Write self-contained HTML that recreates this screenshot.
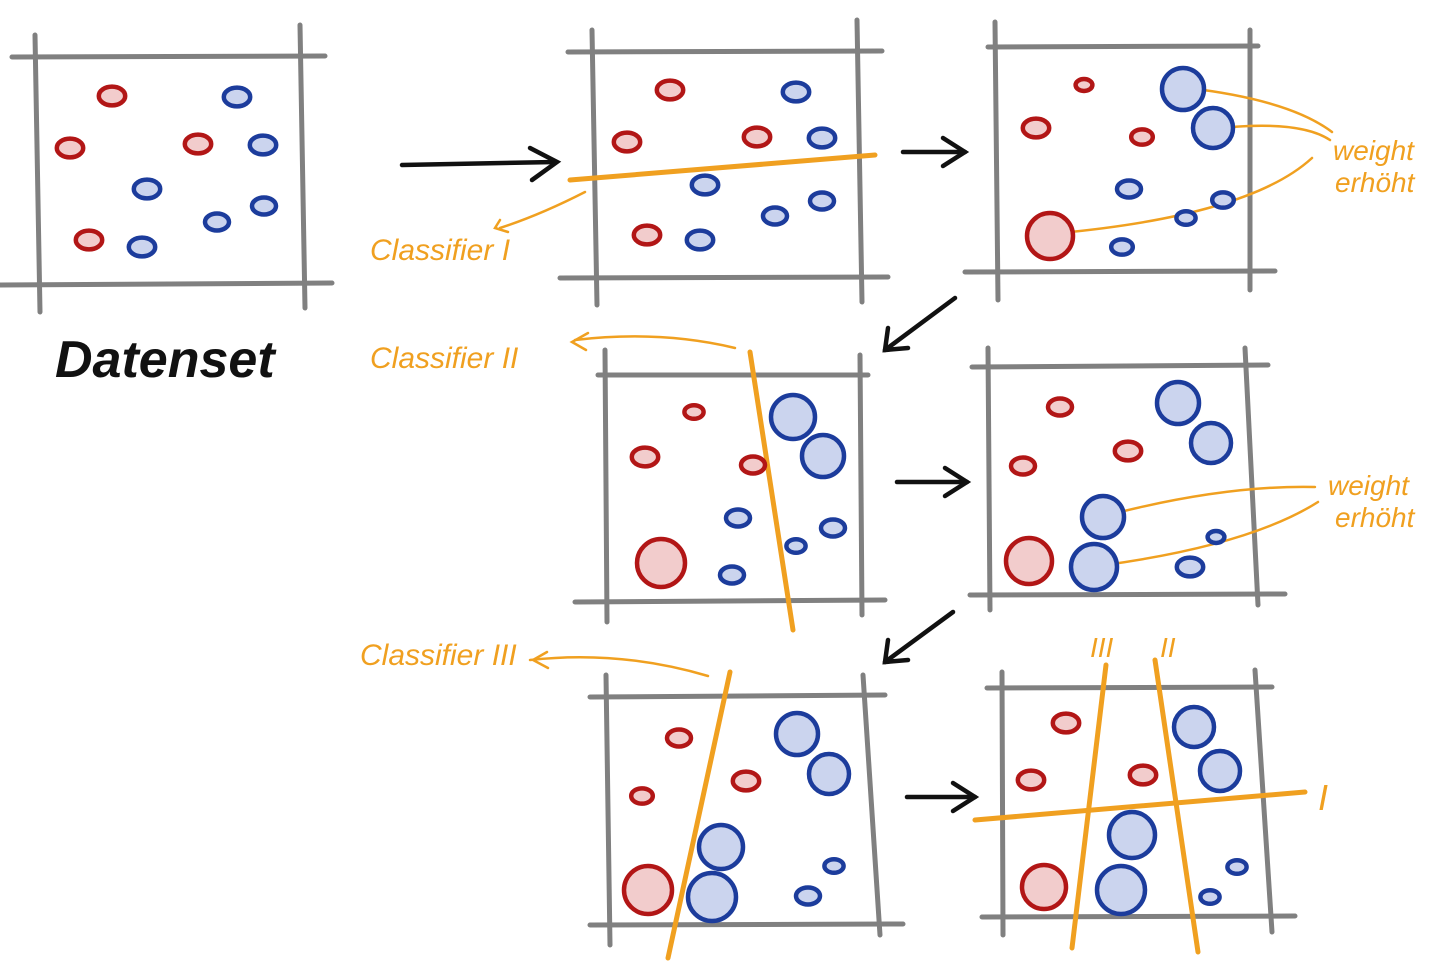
<!DOCTYPE html>
<html><head><meta charset="utf-8"><style>
html,body{margin:0;padding:0;background:#fff;width:1455px;height:968px;overflow:hidden}
svg text{font-family:"Liberation Sans",sans-serif}
</style></head><body>
<svg id="s" width="1455" height="968">
<g id="frames" stroke="#6a6a6a" stroke-width="5" stroke-linecap="round" opacity="0.85"></g>
<g id="orange" stroke="#f0a020" stroke-width="5" stroke-linecap="round" fill="none"></g>
<g id="pts"></g>
<g id="arrows" stroke="#111" stroke-width="4.5" stroke-linecap="round" fill="none"></g>
<g fill="#f0a020" font-size="30" font-style="italic">
<text x="55" y="377" fill="#111" font-size="52" font-style="italic" font-weight="bold">Datenset</text>
<text x="370" y="260">Classifier I</text>
<text x="370" y="368">Classifier II</text>
<text x="360" y="665">Classifier III</text>
<text x="1333" y="160" font-size="28">weight</text>
<text x="1335" y="192" font-size="28">erhöht</text>
<text x="1328" y="495" font-size="28">weight</text>
<text x="1335" y="527" font-size="28">erhöht</text>
<text x="1090" y="657" font-size="28">III</text>
<text x="1160" y="657" font-size="28">II</text>
<text x="1318" y="810" font-size="36">I</text>
</g>
</svg>
<script>
const NS="http://www.w3.org/2000/svg";
function mk(p,t,a){const e=document.createElementNS(NS,t);for(const k in a)e.setAttribute(k,a[k]);p.appendChild(e);return e;}
const frameSegs=[
[12,57,325,56],[0,285,332,283],[35,35,40,312],[300,25,305,308],
[568,52,882,51],[560,278,888,277],[592,30,597,305],[857,20,862,302],
[988,47,1258,46],[965,272,1275,271],[995,22,998,300],[1250,30,1250,290],
[598,375,868,375],[575,602,885,600],[605,350,607,622],[860,355,862,615],
[972,367,1268,365],[970,595,1285,594],[988,348,990,610],[1245,348,1258,605],
[590,697,885,695],[590,925,903,924],[606,675,610,945],[863,675,880,935],
[987,688,1272,687],[982,917,1295,916],[1002,672,1003,935],[1255,670,1272,932]];
const fr=document.getElementById('frames');
for(const s of frameSegs){const l=mk(fr,'line',{x1:s[0],y1:s[1],x2:s[2],y2:s[3]});

}
const orangePaths=[
"M570,180 L875,155","M585,192 Q540,215 500,228","M500,220 L495,228 L508,232",
"M750,352 L793,630","M735,348 Q660,330 575,340","M588,333 L572,342 L586,350",
"M730,672 L668,958","M708,676 Q620,650 530,660","M547,652 L533,660 L548,668",
"M975,820 L1305,792","M1106,665 L1072,948","M1155,660 L1198,952",
"M1188,88 Q1290,100 1332,132","M1220,128 Q1300,120 1330,140","M1060,233 Q1250,215 1312,158",
"M1120,512 Q1230,485 1315,487","M1105,565 Q1250,545 1318,502"];
const og=document.getElementById('orange');
for(const d of orangePaths){const p=mk(og,'path',{d:d,'stroke-width':d.indexOf('Q')>0||d.split('L').length>2?2.5:5});

}
const ptX=[112,237,70,198,263,147,217,264,89,142, 670,796,627,757,822,705,775,822,647,700,
1084,1183,1036,1142,1213,1129,1186,1223,1050,1122, 694,793,645,753,823,738,796,833,661,732,
1060,1178,1023,1128,1211,1103,1216,1190,1029,1094, 679,797,642,746,829,721,808,834,648,712,
1066,1194,1031,1143,1220,1132,1210,1237,1044,1121];
const ptY=[96,97,148,144,145,189,222,206,240,247, 90,92,142,137,138,185,216,201,235,240,
85,89,128,137,128,189,218,200,236,247, 412,417,457,465,456,518,546,528,563,575,
407,403,466,451,443,517,537,567,561,567, 738,734,796,781,774,847,896,866,890,897,
723,727,780,775,771,835,897,867,887,890];
const ptR=[11,11,11,11,11,11,10,10,11,11, 11,11,11,11,11,11,10,10,11,11,
7,21,11,9,20,10,8,9,23,9, 8,22,11,10,21,10,8,10,24,10,
10,21,10,11,20,21,7,11,23,23, 10,21,9,11,20,22,10,8,24,24,
11,20,11,11,20,23,8,8,22,24];
const ptC="rbrrbbbbrb rbrrbbbbrb rbrrbbbbrb rbrrbbbbrb rbrrbbbbrb rbrrbbbbrb rbrrbbbbrb".replace(/ /g,'');
const pg=document.getElementById('pts');
for(let i=0;i<ptX.length;i++){const red=ptC[i]==='r';const r=ptR[i];
const e=mk(pg,'ellipse',{cx:ptX[i],cy:ptY[i],rx:r*(r<15?1.2:1),ry:r*(r<15?0.85:1),fill:red?'#f2cccc':'#cbd4ee',stroke:red?'#b21616':'#1c3c9c','stroke-width':4.5});

}
const arrowPaths=["M402,165 L555,162","M530,148 L557,162 L532,180","M903,152 L965,152","M943,138 L965,152 L943,166",
"M955,298 L885,350","M888,328 L885,350 L908,348","M897,482 L967,482","M945,468 L967,482 L945,496",
"M953,612 L885,662","M888,640 L885,662 L908,660","M907,797 L975,797","M953,783 L975,797 L953,811"];
const ag=document.getElementById('arrows');
for(const d of arrowPaths){const p=mk(ag,'path',{d:d});

}
</script>
</body></html>
